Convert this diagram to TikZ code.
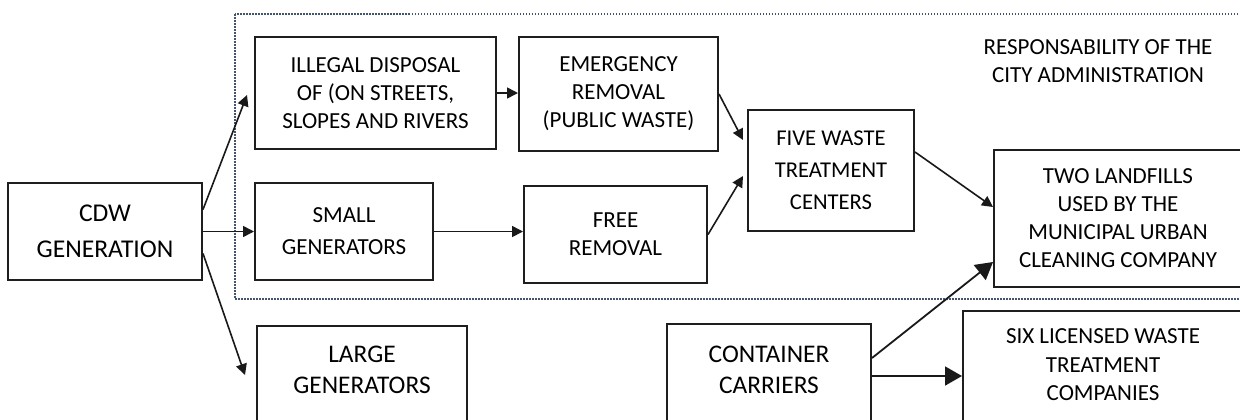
\documentclass[tikz,border=0pt]{standalone}
\usepackage{fontspec}
\setmainfont{Carlito}
\usepackage{tikz}
\usetikzlibrary{arrows.meta, calc}
\usepackage{xcolor}
\definecolor{framecolor}{RGB}{68,84,106}
\definecolor{boxline}{RGB}{30,30,30}

\begin{document}
\begin{tikzpicture}[x=0.5pt, y=-0.5pt,
    box/.style={draw=boxline, line width=1pt, align=center, inner sep=0pt, font=\fontsize{11.5}{14}\selectfont},
    bigfont/.style={font=\fontsize{12.7}{15.5}\selectfont},
    openbox/.style={box, bigfont, anchor=north, text depth=60pt},
    arr/.style={-{Triangle[length=5.5pt, width=5.5pt]}, line width=0.8pt, black!90},
    bigarr/.style={-{Triangle[length=8.5pt, width=9.5pt]}, line width=0.9pt, black!90},
    frame/.style={draw=framecolor, line width=0.9pt, dash pattern=on 0.75pt off 0.75pt}]
    \clip (0,0) rectangle (1240,419);
    \draw[frame] (235,14) rectangle (1260,299);
    \node[font=\fontsize{11.5}{14}\selectfont, align=center] (resp) at (1098,61) {RESPONSABILITY OF THE\\CITY ADMINISTRATION};
    \node[box, font=\fontsize{12.8}{18}\selectfont, minimum width=97pt, minimum height=48.5pt] (cdw) at (105,231.5) {CDW\\GENERATION};
    \node[box, minimum width=120.5pt, minimum height=56pt] (illegal) at (375.5,93) {ILLEGAL DISPOSAL\\OF (ON STREETS,\\SLOPES AND RIVERS};
    \node[box, minimum width=99.5pt, minimum height=57pt] (emerg) at (618.5,94) {EMERGENCY\\REMOVAL\\(PUBLIC WASTE)};
    \node[box, font=\fontsize{11.5}{16}\selectfont, minimum width=89pt, minimum height=48.5pt] (small) at (344,231.5) {SMALL\\GENERATORS};
    \node[box, minimum width=91.5pt, minimum height=48.5pt] (free) at (615.5,234.5) {FREE\\REMOVAL};
    \node[box, font=\fontsize{11.3}{16}\selectfont, minimum width=83pt, minimum height=60.5pt] (five) at (831,170.5) {FIVE WASTE\\TREATMENT\\CENTERS};
    \node[box, minimum width=124pt, minimum height=68.5pt] (landfill) at (1118,218.5) {TWO LANDFILLS\\USED BY THE\\MUNICIPAL URBAN\\CLEANING COMPANY};
    \node[openbox, minimum width=105pt, inner ysep=9.9pt] (large) at (362,325) {LARGE\\GENERATORS};
    \node[openbox, minimum width=102pt, inner ysep=10.9pt] (container) at (769,323) {CONTAINER\\CARRIERS};
    \node[openbox, font=\fontsize{11.5}{14.25}\selectfont, minimum width=140pt, inner ysep=8.8pt] (six) at (1103,310) {SIX LICENSED WASTE\\TREATMENT\\COMPANIES};
    \draw[arr] ([yshift=11pt]cdw.east) -- ([xshift=-3.5pt, yshift=-1pt]illegal.west);
    \draw[arr] (cdw.east) -- (small.west);
    \draw[arr] ([yshift=-11pt]cdw.east) -- ([xshift=-5.5pt, yshift=-25pt]large.north west);
    \draw[arr] (illegal.east) -- (illegal.east -| emerg.west);
    \draw[arr] (small.east) -- (small.east -| free.west);
    \draw[arr] (emerg.east) -- ([xshift=-2pt, yshift=15.25pt]five.west);
    \draw[arr] (free.east) -- ([xshift=-2pt, yshift=-2.75pt]five.west);
    \draw[arr] ([yshift=9.25pt]five.east) -- ([yshift=5.75pt]landfill.west);
    \draw[bigarr] ([yshift=-17.5pt]container.north east) -- ([yshift=-21.75pt]landfill.west);
    \draw[bigarr] ([yshift=-26.5pt]container.north east) -- ([yshift=-33pt]six.north west);
\end{tikzpicture}
\end{document}
